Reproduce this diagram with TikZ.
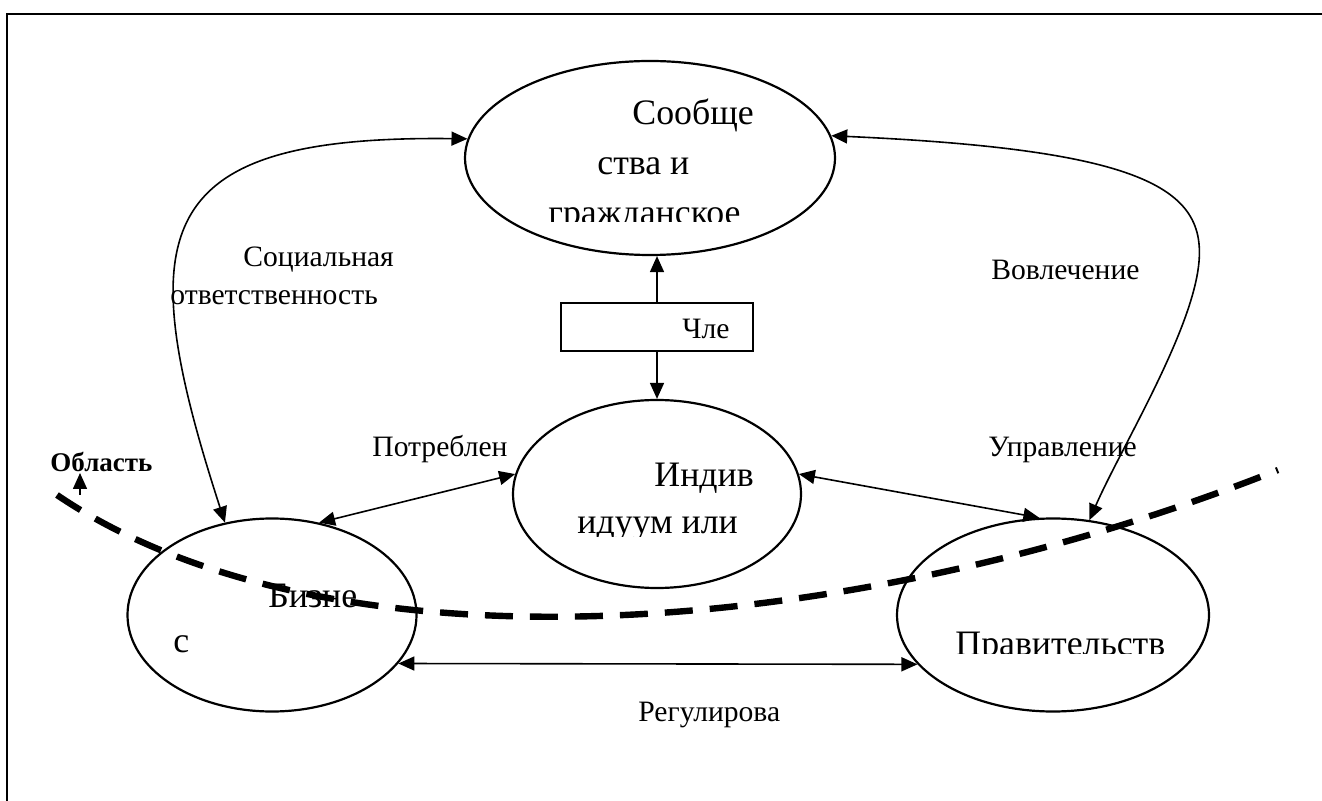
\documentclass[tikz,border=0pt]{standalone}
\usepackage{fontspec}
\setmainfont{Liberation Serif}
\usetikzlibrary{shapes.geometric,arrows.meta}

\newcommand{\smallfont}{\fontsize{14.8}{17}\selectfont}
\newcommand{\bigfont}{\fontsize{17.9}{21}\selectfont}

\newcommand{\setupcentres}{
    \coordinate (c0) at (650,158);  % communities
    \coordinate (c1) at (657,494);  % individual
    \coordinate (c2) at (272,615);  % business
    \coordinate (c3) at (1053,615); % government
    \coordinate (c4) at (657,327);  % member box
}

\tikzset{
    oval/.style={draw, ellipse, line width=1.1pt, inner sep=0pt},
    link/.style={line width=0.8pt},
    lbl/.style={anchor=base west, inner sep=0pt, font=\smallfont},
    intext/.style={anchor=base west, inner sep=0pt, font=\bigfont},
    zone/.style={line width=3.2pt, dash pattern=on 14pt off 8.5pt}
}

\begin{document}
\begin{tikzpicture}[x=0.5pt,y=-0.5pt,>={Triangle[length=8pt,width=7pt]}]
    \useasboundingbox (0,0) rectangle (1322,801);
    \setupcentres;

    \draw[line width=1.3pt] (7,801) -- (7,14) -- (1322,14); % frame

    \node[oval, minimum width=185pt, minimum height=97pt] (soob) at (c0) {};
    \node[oval, minimum width=144pt, minimum height=94pt] (indiv) at (c1) {};
    \node[oval, minimum width=144.5pt, minimum height=96.5pt] (biz) at (c2) {};
    \node[oval, minimum width=156pt, minimum height=96.5pt] (prav) at (c3) {};
    \node[draw, line width=1pt, minimum width=96pt, minimum height=24pt] (chle) at (c4) {};

    % texts inside the shapes
    \node[intext] (soob1) at (632,125) {Сообще};
    \node[intext] (soob2) at (597,175) {ства и};
    \begin{scope}
        \clip (500,150) rectangle (800,222);
        \node[intext] (soob3) at (548,225) {гражданское};
    \end{scope}
    \node[lbl] (chletext) at (682,339) {Чле};
    \node[intext] (indiv1) at (654,487) {Индив};
    \begin{scope}
        \clip (520,490) rectangle (790,537);
        \node[intext] (indiv2) at (577,534) {идуум или};
    \end{scope}
    \node[intext] (biz1) at (268,607) {Бизне};
    \node[intext] (biz2) at (173,652) {с};
    \begin{scope}
        \clip (900,600) rectangle (1200,653);
        \node[intext] (prav1) at (955,655) {Правительств};
    \end{scope}

    % labels
    \node[lbl] (soc1) at (243,267) {Социальная};
    \node[lbl] (soc2) at (170,305) {ответственность};
    \node[lbl] (vovl) at (991,280) {Вовлечение};
    \node[lbl] (potr) at (372,457) {Потреблен};
    \node[lbl] (upr) at (988,457) {Управление};
    \node[lbl] (regul) at (638,721) {Регулирова};
    \node[lbl, font=\fontsize{13.5}{16}\selectfont\bfseries] (obl) at (50,472) {Область};

    % connectors
    \draw[link,<->] (biz.117) .. controls (130,230) and (150,135) .. (soob.174);
    \draw[link,<->] (soob.7) .. controls (1150,150) and (1210,190) .. (1198,270)
        .. controls (1187.5,340) and (1120,450) .. (prav.69);
    \draw[link,->] (chle.north) -- (chle.north |- soob.south);
    \draw[link,->] (chle.south) -- (indiv.north);
    \draw[link,<->] (biz.63) -- (indiv.172);
    \draw[link,<->] (indiv.8) -- (prav.98);
    \draw[link,<->] (biz.-21) -- (prav.-160);

    % boundary of the area
    \coordinate (zoneA) at (57,495);
    \coordinate (zoneB) at (1278,470);
    \draw[zone] (zoneA) .. controls (330,680) and (850,640) .. (zoneB);
    \coordinate (oblfoot) at (80,495);
    \draw[link,->] (oblfoot) -- ++(0,-22);
\end{tikzpicture}
\end{document}
